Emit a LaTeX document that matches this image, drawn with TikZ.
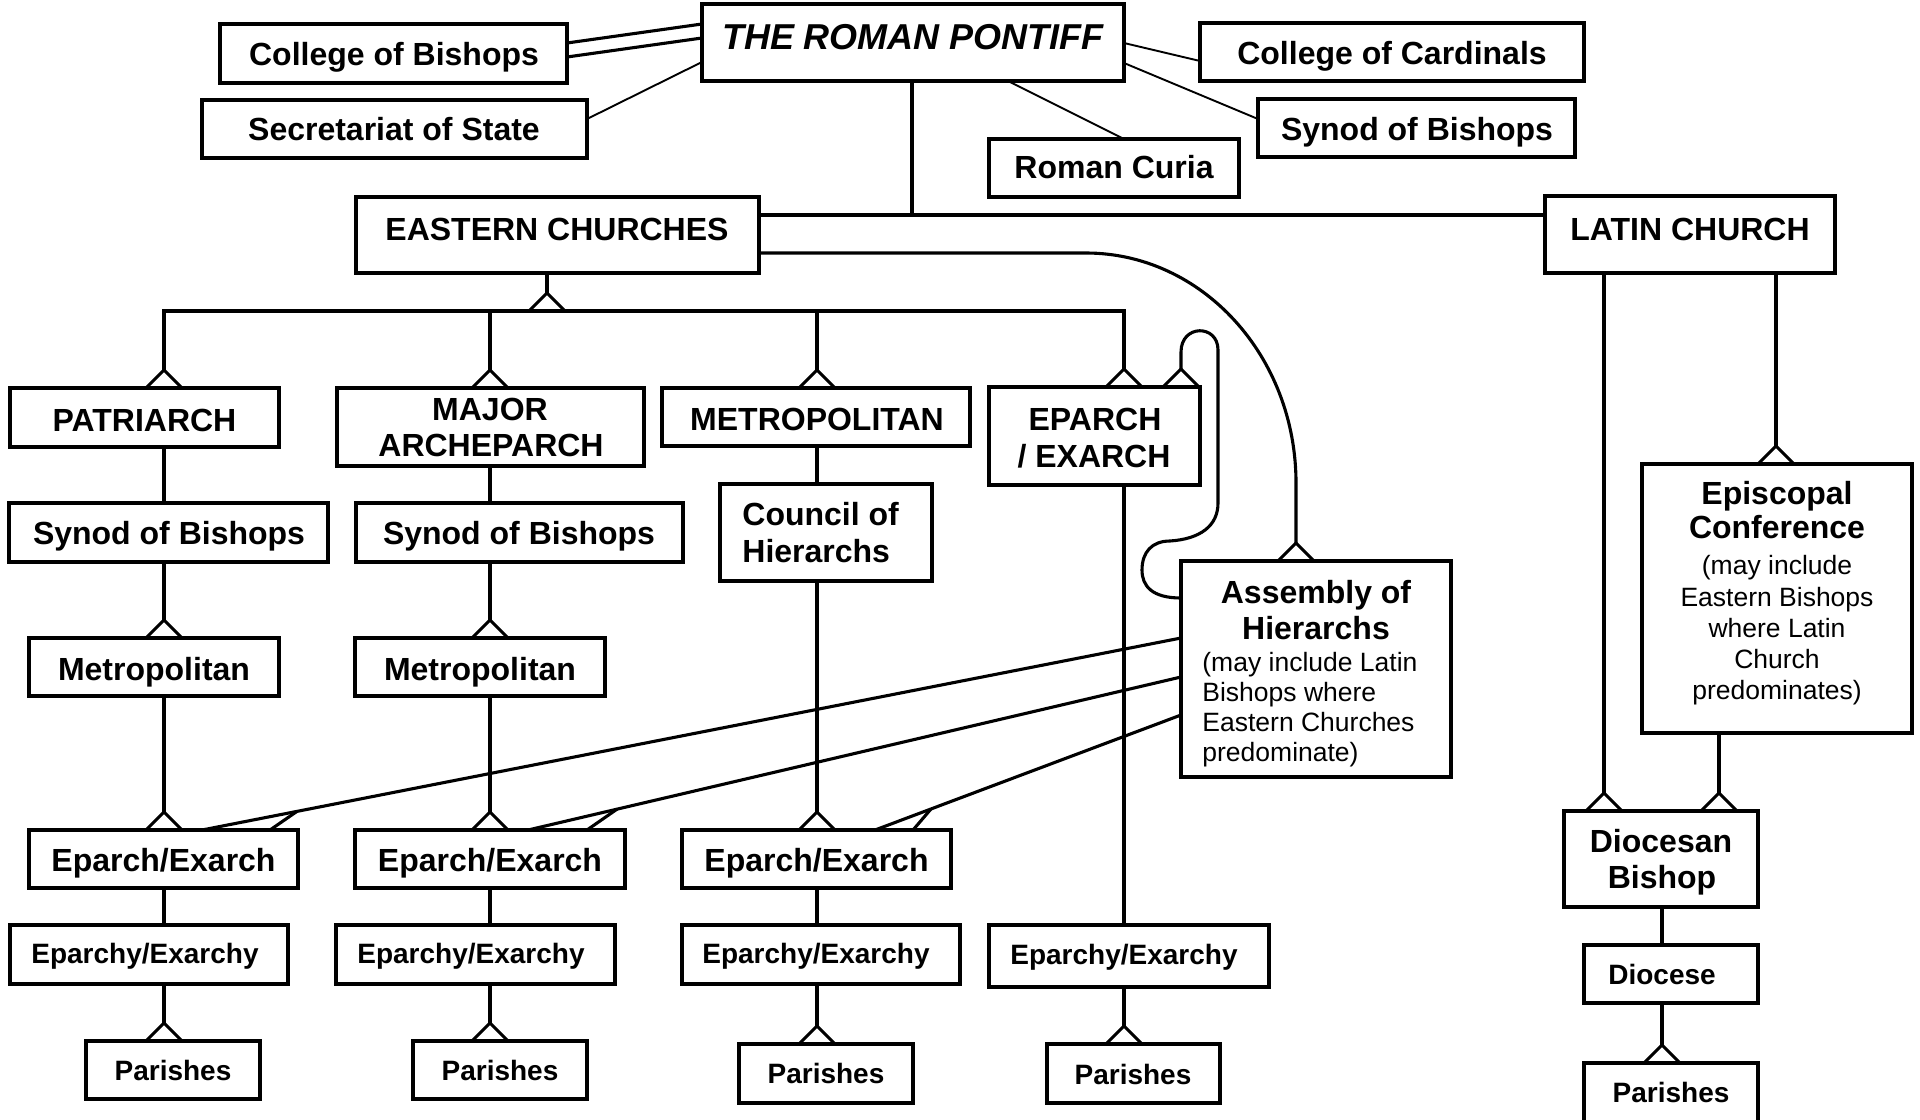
\documentclass[tikz,border=0pt]{standalone}
\usepackage{fontspec}
\setmainfont{Liberation Sans}
\usetikzlibrary{fit,calc}
\begin{document}
\begin{tikzpicture}[x=0.5pt,y=-0.5pt, line join=miter,
  box/.style={draw, line width=1.8pt, inner sep=0pt, outer sep=0pt, rectangle},
  conn/.style={line width=1.55pt},
  thinconn/.style={line width=0.95pt},
  tofoot/.style={conn, shorten >=9pt},
  crow/.pic={\draw[line width=1.55pt] (-18,0) -- (0,-18) -- (18,0);},
  bt/.style={font=\bfseries\fontsize{16pt}{19pt}\selectfont, anchor=base, inner sep=0pt},
  bts/.style={font=\bfseries\fontsize{14pt}{17pt}\selectfont, anchor=base, inner sep=0pt},
  rt/.style={font=\fontsize{13.25pt}{15pt}\selectfont, anchor=base, inner sep=0pt},
  rtl/.style={rt, anchor=base west},
]
\useasboundingbox (0,0) rectangle (1920,1119);
\clip (0,0) rectangle (1920,1119);

% ---------- boxes ----------
\node[box, fit={(702,4) (1124,81)}] (pontiff) {};
\node[box, fit={(220,24) (567,83)}] (cob) {};
\node[box, fit={(202,100) (587,158)}] (sec) {};
\node[box, fit={(1200,23) (1584,81)}] (coc) {};
\node[box, fit={(1258,99) (1575,157)}] (sobt) {};
\node[box, fit={(989,139) (1239,197)}] (curia) {};
\node[box, fit={(356,197) (759,273)}] (ec) {};
\node[box, fit={(1545,196) (1835,273)}] (lc) {};
\node[box, fit={(10,388) (279,447)}] (pat) {};
\node[box, fit={(337,388) (644,466)}] (mae) {};
\node[box, fit={(662,388) (970,446)}] (met) {};
\node[box, fit={(989,387) (1200,485)}] (ep) {};
\node[box, fit={(9,503) (328,562)}] (syn1) {};
\node[box, fit={(356,503) (683,562)}] (syn2) {};
\node[box, fit={(720,484) (932,581)}] (coh) {};
\node[box, fit={(1181,561) (1451,777)}] (asm) {};
\node[box, fit={(29,638) (279,696)}] (mt1) {};
\node[box, fit={(355,638) (605,696)}] (mt2) {};
\node[box, fit={(1642,464) (1912,733)}] (epc) {};
\node[box, fit={(29,830) (298,888)}] (ee1) {};
\node[box, fit={(355,830) (625,888)}] (ee2) {};
\node[box, fit={(682,830) (951,888)}] (ee3) {};
\node[box, fit={(1564,811) (1758,907)}] (db) {};
\node[box, fit={(10,925) (288,984)}] (ey1) {};
\node[box, fit={(336,925) (615,984)}] (ey2) {};
\node[box, fit={(682,925) (960,984)}] (ey3) {};
\node[box, fit={(989,925) (1269,987)}] (ey4) {};
\node[box, fit={(1584,945) (1758,1003)}] (dio) {};
\node[box, fit={(86,1041) (260,1099)}] (par1) {};
\node[box, fit={(413,1041) (587,1099)}] (par2) {};
\node[box, fit={(739,1044) (913,1103)}] (par3) {};
\node[box, fit={(1047,1044) (1220,1103)}] (par4) {};
\node[box, fit={(1584,1063) (1758,1135)}] (par5) {};

% ---------- texts ----------
\node[bt, font=\bfseries\itshape\fontsize{18pt}{21pt}\selectfont] (pontiff-t) at (913,49) {THE ROMAN PONTIFF};
\node[bt] (cob-t) at (394,65) {College of Bishops};
\node[bt] (sec-t) at (394,140) {Secretariat of State};
\node[bt] (coc-t) at (1392,64) {College of Cardinals};
\node[bt] (sobt-t) at (1417,140) {Synod of Bishops};
\node[bt] (curia-t) at (1114,178) {Roman Curia};
\node[bt] (ec-t) at (557,240) {EASTERN CHURCHES};
\node[bt] (lc-t) at (1690,240) {LATIN CHURCH};
\node[bt] (pat-t) at (144.5,431) {PATRIARCH};
\node[bt] (mae-t1) at (490,420) {MAJOR};
\node[bt] (mae-t2) at (491,456) {ARCHEPARCH};
\node[bt] (met-t) at (817,430) {METROPOLITAN};
\node[bt] (ep-t1) at (1095,430) {EPARCH};
\node[bt] (ep-t2) at (1094,467) {/ EXARCH};
\node[bt] (syn1-t) at (169,544) {Synod of Bishops};
\node[bt] (syn2-t) at (519,544) {Synod of Bishops};
\node[bt, anchor=base west] (coh-t1) at (742,525) {Council of};
\node[bt, anchor=base west] (coh-t2) at (742,562) {Hierarchs};
\node[bt] (mt1-t) at (154,680) {Metropolitan};
\node[bt] (mt2-t) at (480,680) {Metropolitan};
\node[bt] (asm-t1) at (1316,603) {Assembly of};
\node[bt] (asm-t2) at (1316,639) {Hierarchs};
\node[rtl] (asm-t3) at (1202,671) {(may include Latin};
\node[rtl] (asm-t4) at (1202,701) {Bishops where};
\node[rtl] (asm-t5) at (1202,731) {Eastern Churches};
\node[rtl] (asm-t6) at (1202,761) {predominate)};
\node[bt] (epc-t1) at (1777,504) {Episcopal};
\node[bt] (epc-t2) at (1777,538) {Conference};
\node[rt] (epc-t3) at (1777,574) {(may include};
\node[rt] (epc-t4) at (1777,606) {Eastern Bishops};
\node[rt] (epc-t5) at (1777,637) {where Latin};
\node[rt] (epc-t6) at (1777,668) {Church};
\node[rt] (epc-t7) at (1777,699) {predominates)};
\node[bt] (ee1-t) at (163.5,871) {Eparch/Exarch};
\node[bt] (ee2-t) at (490,871) {Eparch/Exarch};
\node[bt] (ee3-t) at (816.5,871) {Eparch/Exarch};
\node[bt] (db-t1) at (1661,852) {Diocesan};
\node[bt] (db-t2) at (1662,888) {Bishop};
\node[bts] (ey1-t) at (145,963) {Eparchy/Exarchy};
\node[bts] (ey2-t) at (471,963) {Eparchy/Exarchy};
\node[bts] (ey3-t) at (816,963) {Eparchy/Exarchy};
\node[bts] (ey4-t) at (1124,964) {Eparchy/Exarchy};
\node[bts] (dio-t) at (1662,984) {Diocese};
\node[bts] (par1-t) at (173,1080) {Parishes};
\node[bts] (par2-t) at (500,1080) {Parishes};
\node[bts] (par3-t) at (826,1083) {Parishes};
\node[bts] (par4-t) at (1133,1084) {Parishes};
\node[bts] (par5-t) at (1671,1102) {Parishes};

% ---------- helper coordinates ----------
\coordinate (busT) at (912,215);
\coordinate (eb) at (547,311);
\coordinate (k1) at (164,311);
\coordinate (k2) at (490,311);
\coordinate (k3) at (817,311);
\coordinate (k4) at (1124,311);
\coordinate (l1) at (1604,0);
\coordinate (l2) at (1776,0);
\coordinate (l3) at (1719,0);
\coordinate (l4) at (1662,0);

% ---------- top connectors ----------
\draw[conn] (cob.east |- 0,43) -- (pontiff.west |- 0,24);
\draw[conn] (cob.east |- 0,57) -- (pontiff.west |- 0,38);
\draw[thinconn] (sec.east |- 0,119) -- (pontiff.west |- 0,62);
\draw[thinconn] (pontiff.east |- 0,43) -- (coc.west |- 0,61);
\draw[thinconn] (pontiff.east |- 0,63) -- (sobt.west |- 0,119);
\draw[thinconn] (pontiff.south -| 1008,0) -- (curia.north -| 1124,0);
\draw[conn] (pontiff.south -| busT) -- (busT);
\draw[conn] (ec.east |- busT) -- (lc.west |- busT);

% ---------- eastern bus ----------
\draw[tofoot] (ec.south -| eb) -- (eb);
\pic at (eb) {crow};
\draw[conn] ($(pat.north -| k1)+(0,-18)$) -- (k1) -- (k4) -- ($(ep.north -| k4)+(0,-18)$);
\draw[tofoot] (k2) -- (mae.north -| k2);
\draw[tofoot] (k3) -- (met.north -| k3);
\pic at (pat.north -| k1) {crow};
\pic at (mae.north -| k2) {crow};
\pic at (met.north -| k3) {crow};
\pic at (ep.north -| k4) {crow};

% ---------- column 1 ----------
\draw[conn] (pat.south -| k1) -- (syn1.north -| k1);
\draw[tofoot] (syn1.south -| k1) -- (mt1.north -| k1);
\pic at (mt1.north -| k1) {crow};
\draw[tofoot] (mt1.south -| k1) -- (ee1.north -| k1);
\pic at (ee1.north -| k1) {crow};
\draw[conn] (ee1.south -| k1) -- (ey1.north -| k1);
\draw[tofoot] (ey1.south -| k1) -- (par1.north -| k1);
\pic at (par1.north -| k1) {crow};

% ---------- column 2 ----------
\draw[conn] (mae.south -| k2) -- (syn2.north -| k2);
\draw[tofoot] (syn2.south -| k2) -- (mt2.north -| k2);
\pic at (mt2.north -| k2) {crow};
\draw[tofoot] (mt2.south -| k2) -- (ee2.north -| k2);
\pic at (ee2.north -| k2) {crow};
\draw[conn] (ee2.south -| k2) -- (ey2.north -| k2);
\draw[tofoot] (ey2.south -| k2) -- (par2.north -| k2);
\pic at (par2.north -| k2) {crow};

% ---------- column 3 ----------
\draw[conn] (met.south -| k3) -- (coh.north -| k3);
\draw[tofoot] (coh.south -| k3) -- (ee3.north -| k3);
\pic at (ee3.north -| k3) {crow};
\draw[conn] (ee3.south -| k3) -- (ey3.north -| k3);
\draw[tofoot] (ey3.south -| k3) -- (par3.north -| k3);
\pic at (par3.north -| k3) {crow};

% ---------- column 4 ----------
\draw[conn] (ep.south -| k4) -- (ey4.north -| k4);
\draw[tofoot] (ey4.south -| k4) -- (par4.north -| k4);
\pic at (par4.north -| k4) {crow};

% ---------- eastern churches -> assembly ----------
\draw[tofoot] (ec.east |- 0,253) -- (1086,253) .. controls (1202,253) and (1296,356) .. (1296,483) -- (asm.north -| 1296,0);
\pic at (asm.north -| 1296,0) {crow};

% ---------- loop eparch -> assembly ----------
\draw[tofoot] (asm.west |- 0,598) .. controls (1152,598) and (1142,586) .. (1142,570)
  .. controls (1142,552) and (1152,541) .. (1170,541)
  .. controls (1200,539) and (1218,526) .. (1218,503) -- (1218,350)
  .. controls (1218,324) and (1181,324) .. (1181,352) -- (ep.north -| 1181,0);
\pic at (ep.north -| 1181,0) {crow};

% ---------- assembly -> eparch/exarch ----------
\draw[conn] (asm.west |- 0,638) -- coordinate[pos=0.903] (a1) (ee1.north -| 202,0);
\draw[conn] (a1) -- (ee1.north -| 270,0);
\draw[conn] (asm.west |- 0,677) -- coordinate[pos=0.8637] (a2) (ee2.north -| 528,0);
\draw[conn] (a2) -- (ee2.north -| 587,0);
\draw[conn] (asm.west |- 0,715) -- coordinate[pos=0.817] (a3) (ee3.north -| 875,0);
\draw[conn] (a3) -- (ee3.north -| 913,0);

% ---------- latin church ----------
\draw[tofoot] (lc.south -| l1) -- (db.north -| l1);
\pic at (db.north -| l1) {crow};
\draw[tofoot] (lc.south -| l2) -- (epc.north -| l2);
\pic at (epc.north -| l2) {crow};
\draw[tofoot] (epc.south -| l3) -- (db.north -| l3);
\pic at (db.north -| l3) {crow};
\draw[conn] (db.south -| l4) -- (dio.north -| l4);
\draw[tofoot] (dio.south -| l4) -- (par5.north -| l4);
\pic at (par5.north -| l4) {crow};
\end{tikzpicture}
\end{document}
